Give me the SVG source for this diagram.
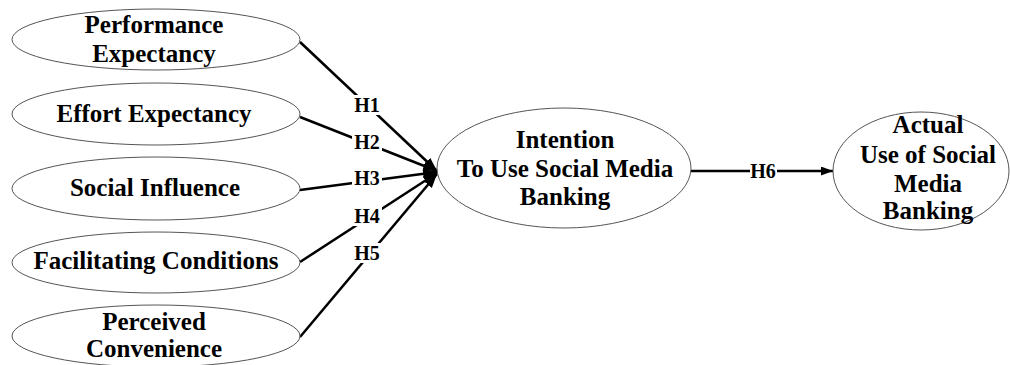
<svg xmlns="http://www.w3.org/2000/svg" width="1010" height="365" viewBox="0 0 1010 365">
<style>
.n{fill:#fff;stroke:#555;stroke-width:1}
.t{font-family:"Liberation Serif","Times New Roman",serif;font-weight:bold;font-size:25px;fill:#000;text-anchor:middle}
.l{font-family:"Liberation Serif","Times New Roman",serif;font-weight:bold;font-size:20px;fill:#000;text-anchor:middle;dominant-baseline:central}
.e{stroke:#000;stroke-width:2.5;fill:none}
.bg{fill:#fff}
</style>
<defs>
<marker id="ah" markerWidth="12" markerHeight="9" refX="12" refY="4.5" orient="auto" markerUnits="userSpaceOnUse">
<path d="M0,0 L12,4.5 L0,9 Z" fill="#000"/>
</marker>
<marker id="ab" markerWidth="14" markerHeight="14" refX="14" refY="7" orient="auto" markerUnits="userSpaceOnUse">
<path d="M0,2 L14,7 L0,12 Z" fill="#000"/>
</marker>
</defs>
<g id="connectors">
<line class="e" x1="300" y1="42" x2="437" y2="171" marker-end="url(#ab)"/>
<line class="e" x1="300" y1="117" x2="437" y2="171" marker-end="url(#ab)"/>
<line class="e" x1="300" y1="190" x2="437" y2="172" marker-end="url(#ab)"/>
<line class="e" x1="300" y1="262" x2="437" y2="173" marker-end="url(#ab)"/>
<line class="e" x1="300" y1="337" x2="437" y2="174" marker-end="url(#ab)"/>
<line class="e" x1="691" y1="171" x2="833" y2="171" stroke-width="2" marker-end="url(#ah)"/>
<rect class="bg" x="352" y="95" width="30" height="20"/>
<text class="l" x="367" y="105">H1</text>
<rect class="bg" x="352" y="132" width="30" height="20"/>
<text class="l" x="367" y="142">H2</text>
<rect class="bg" x="352" y="168" width="30" height="20"/>
<text class="l" x="367" y="178">H3</text>
<rect class="bg" x="352" y="206" width="30" height="20"/>
<text class="l" x="367" y="216">H4</text>
<rect class="bg" x="352" y="243" width="30" height="20"/>
<text class="l" x="367" y="253">H5</text>
<rect class="bg" x="750" y="161" width="27" height="20"/>
<text class="l" x="763" y="171">H6</text>
</g>
<g id="pe">
<ellipse class="n" cx="156" cy="39.5" rx="144" ry="30.5"/>
<text class="t" x="154" y="33">Performance</text>
<text class="t" x="154" y="62">Expectancy</text>
</g>
<g id="ee">
<ellipse class="n" cx="156" cy="114" rx="144" ry="31"/>
<text class="t" x="154" y="122">Effort Expectancy</text>
</g>
<g id="si">
<ellipse class="n" cx="156" cy="188.5" rx="144" ry="31.5"/>
<text class="t" x="155" y="196">Social Influence</text>
</g>
<g id="fc">
<ellipse class="n" cx="156" cy="262.5" rx="144" ry="30.5"/>
<text class="t" x="156" y="269">Facilitating Conditions</text>
</g>
<g id="pc">
<ellipse class="n" cx="156" cy="336" rx="144" ry="31"/>
<text class="t" x="154" y="330">Perceived</text>
<text class="t" x="154" y="357">Convenience</text>
</g>
<g id="it">
<ellipse class="n" cx="564" cy="168" rx="127" ry="60"/>
<text class="t" x="565" y="148">Intention</text>
<text class="t" x="565" y="177">To Use Social Media</text>
<text class="t" x="565" y="205">Banking</text>
</g>
<g id="au">
<ellipse class="n" cx="921" cy="171" rx="88" ry="59"/>
<text class="t" x="928" y="133">Actual</text>
<text class="t" x="928" y="163">Use of Social</text>
<text class="t" x="928" y="192">Media</text>
<text class="t" x="928" y="219">Banking</text>
</g>
</svg>
